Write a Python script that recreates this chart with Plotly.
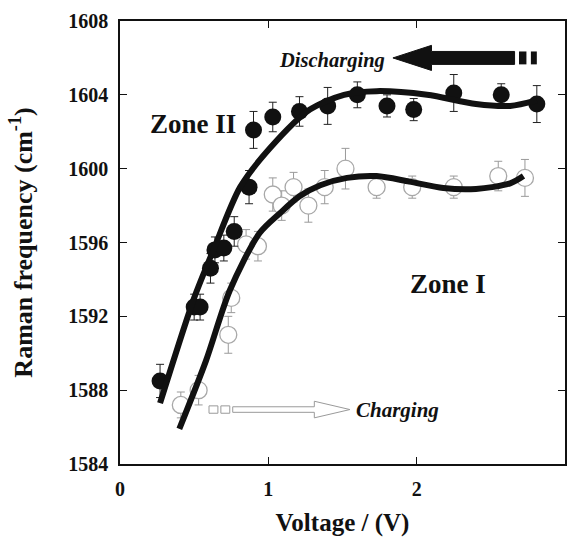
import plotly.graph_objects as go

# Discharging (filled, Zone II)
dis_v = [0.27, 0.50, 0.54, 0.61, 0.64, 0.70, 0.77, 0.87, 0.90, 1.03, 1.21, 1.40, 1.60, 1.80, 1.98, 2.25, 2.57, 2.81]
dis_f = [1588.5, 1592.5, 1592.5, 1594.6, 1595.6, 1595.7, 1596.6, 1599.0, 1602.1, 1602.8, 1603.1, 1603.4, 1604.0, 1603.4, 1603.2, 1604.1, 1604.0, 1603.5]
dis_err = [0.9, 0.7, 0.7, 0.8, 0.7, 0.7, 0.8, 0.9, 1.0, 0.8, 0.8, 1.0, 0.7, 0.6, 0.6, 1.0, 0.6, 1.0]

# Charging (open, Zone I)
chg_v = [0.41, 0.53, 0.73, 0.75, 0.85, 0.93, 1.03, 1.09, 1.17, 1.27, 1.38, 1.52, 1.73, 1.97, 2.25, 2.55, 2.73]
chg_f = [1587.2, 1588.0, 1591.0, 1593.0, 1595.9, 1595.8, 1598.6, 1598.0, 1599.0, 1598.0, 1599.0, 1600.0, 1599.0, 1599.0, 1599.0, 1599.6, 1599.5]
chg_err = [0.7, 0.8, 1.0, 0.8, 0.8, 0.8, 0.9, 0.8, 0.8, 0.9, 0.9, 1.1, 0.6, 0.6, 0.6, 0.8, 1.0]

# Fitted curves
fitd_v = [0.27, 0.50, 0.63, 0.81, 1.01, 1.28, 1.51, 1.73, 2.07, 2.40, 2.63, 2.81]
fitd_f = [1587.3, 1593.0, 1595.6, 1599.0, 1601.1, 1603.2, 1604.0, 1604.2, 1604.0, 1603.5, 1603.4, 1603.7]
fitc_v = [0.40, 0.58, 0.74, 0.94, 1.08, 1.21, 1.35, 1.53, 1.73, 1.95, 2.18, 2.40, 2.63, 2.72]
fitc_f = [1585.9, 1589.6, 1593.4, 1596.5, 1597.6, 1598.5, 1599.1, 1599.5, 1599.6, 1599.3, 1598.95, 1598.9, 1599.2, 1599.6]

x_ticks = [0, 1, 2, 3]
y_ticks = [1584, 1588, 1592, 1596, 1600, 1604, 1608]

SERIF = "Liberation Serif, Times New Roman, serif"

fig = go.Figure()

fig.add_trace(go.Scatter(
    x=chg_v, y=chg_f, mode="markers",
    marker=dict(size=17, color="white", line=dict(color="#a8a8a8", width=1.3)),
    error_y=dict(type="data", array=chg_err, color="#9a9a9a", thickness=1, width=4),
    showlegend=False))
fig.add_trace(go.Scatter(
    x=dis_v, y=dis_f, mode="markers",
    marker=dict(size=17, color="#111111", line=dict(color="#111111", width=0)),
    error_y=dict(type="data", array=dis_err, color="#222222", thickness=1, width=4),
    showlegend=False))
fig.add_trace(go.Scatter(
    x=fitc_v, y=fitc_f, mode="lines", line=dict(color="#111111", width=6, shape="spline", smoothing=0.8),
    showlegend=False))
fig.add_trace(go.Scatter(
    x=fitd_v, y=fitd_f, mode="lines", line=dict(color="#111111", width=6, shape="spline", smoothing=0.8),
    showlegend=False))

# Discharging arrow (filled black)
fig.add_shape(type="path", xref="x", yref="y",
              path="M 2.66 1606.35 L 2.10 1606.35 L 2.10 1606.68 L 1.84 1606.0 L 2.10 1605.32 L 2.10 1605.65 L 2.66 1605.65 Z",
              fillcolor="#111111", line=dict(color="#111111", width=1))
fig.add_shape(type="rect", xref="x", yref="y", x0=2.69, x1=2.74, y0=1605.65, y1=1606.35,
              fillcolor="#111111", line=dict(width=0))
fig.add_shape(type="rect", xref="x", yref="y", x0=2.77, x1=2.81, y0=1605.65, y1=1606.35,
              fillcolor="#111111", line=dict(width=0))

# Charging arrow (open outline)
fig.add_shape(type="path", xref="x", yref="y",
              path="M 0.76 1586.8 L 1.31 1586.8 L 1.31 1586.5 L 1.55 1586.95 L 1.31 1587.4 L 1.31 1587.1 L 0.76 1587.1 Z",
              fillcolor="white", line=dict(color="#9a9a9a", width=1))
for x0, x1 in [(0.60, 0.66), (0.68, 0.74)]:
    fig.add_shape(type="rect", xref="x", yref="y", x0=x0, x1=x1, y0=1586.75, y1=1587.15,
                  fillcolor="white", line=dict(color="#9a9a9a", width=1))

fig.add_annotation(x=1.80, y=1605.85, text="<b><i>Discharging</i></b>", showarrow=False,
                   xanchor="right", font=dict(family=SERIF, size=20.5, color="#111"))
fig.add_annotation(x=1.58, y=1586.9, text="<b><i>Charging</i></b>", showarrow=False,
                   xanchor="left", font=dict(family=SERIF, size=21, color="#111"))
fig.add_annotation(x=0.49, y=1602.4, text="<b>Zone II</b>", showarrow=False,
                   font=dict(family=SERIF, size=27, color="#111"))
fig.add_annotation(x=2.21, y=1593.75, text="<b>Zone I</b>", showarrow=False,
                   font=dict(family=SERIF, size=27, color="#111"))

axis_common = dict(showline=True, linecolor="#111", linewidth=1.5, mirror="ticks",
                   ticks="inside", ticklen=7, tickcolor="#111", tickwidth=1,
                   showgrid=False, zeroline=False, automargin=False,
                   ticklabelstandoff=6,
                   tickfont=dict(family=SERIF, size=20, color="#111"))

fig.update_xaxes(range=[0, 3], tickvals=x_ticks, ticktext=["<b>%d</b>" % t for t in x_ticks],
                 title=dict(text="<b>Voltage / (V)</b>", font=dict(family=SERIF, size=25, color="#111"), standoff=15),
                 **axis_common)
fig.update_yaxes(range=[1584, 1608], tickvals=y_ticks,
                 ticktext=["<b>%d</b>" % t for t in y_ticks],
                 title=dict(text="<b>Raman frequency (cm<sup>-1</sup>)</b>", font=dict(family=SERIF, size=26, color="#111"), standoff=28),
                 **axis_common)

fig.update_layout(width=569, height=538, margin=dict(l=120, r=4, t=21, b=74),
                  plot_bgcolor="white", paper_bgcolor="white")

# remove the browser's default body margin and scrollbars so the figure fills the window exactly
fig.write_html("out.html", config={"displayModeBar": False},
               post_script="document.documentElement.style.overflow='hidden';document.body.style.margin='0';document.body.style.overflow='hidden';")
